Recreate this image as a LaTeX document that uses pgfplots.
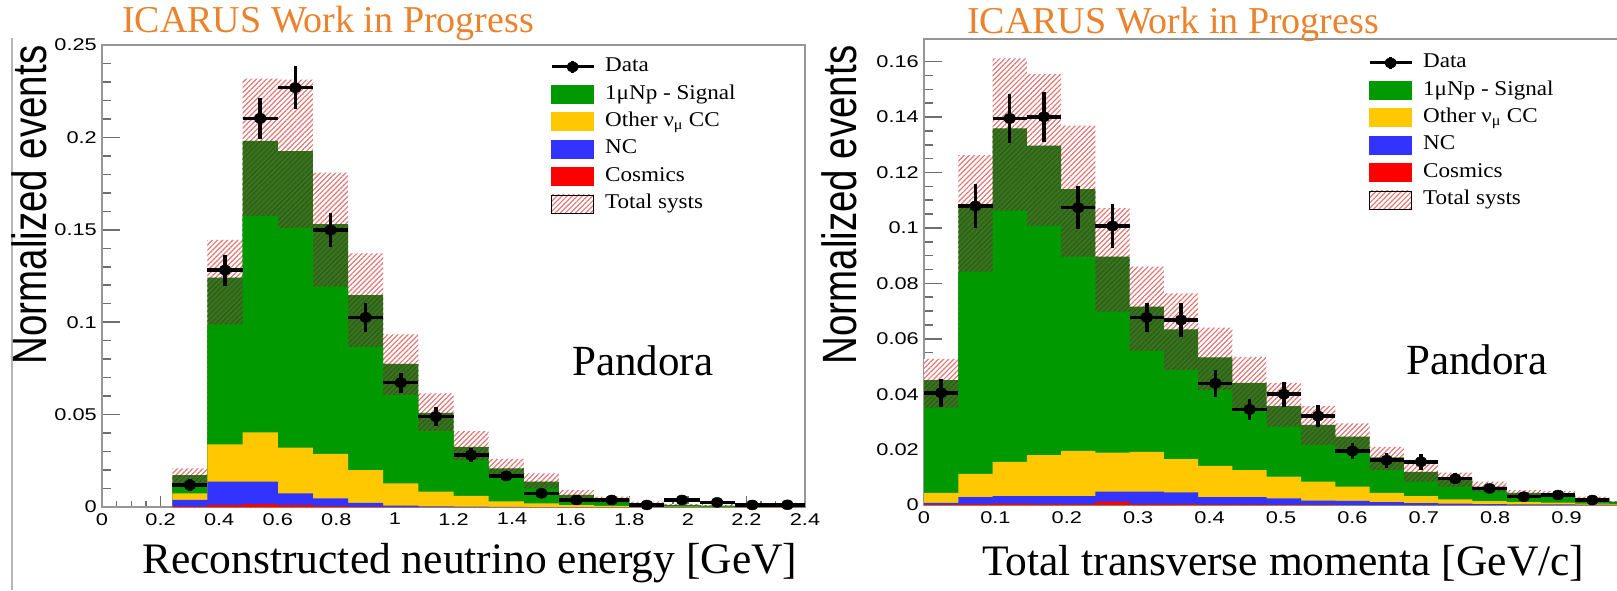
\documentclass[border=0pt]{standalone}
\usepackage{fontspec}
\setmainfont{Liberation Serif}
\newfontfamily\ticksfont[FakeStretch=1.28]{Liberation Sans}
\newfontfamily\labelsans{Liberation Sans}
\newfontfamily\legfont[FakeStretch=1.1]{Liberation Serif}
\usepackage{pgfplots}
\pgfplotsset{compat=1.18}
\usepackage{pgfplotstable}
\usetikzlibrary{patterns.meta}

\definecolor{sigcol}{RGB}{0,153,0}
\definecolor{sysdark}{RGB}{58,115,32}
\definecolor{sysdarkline}{RGB}{42,92,22}
\definecolor{othcol}{RGB}{255,200,0}
\definecolor{nccol}{RGB}{51,51,255}
\definecolor{coscol}{RGB}{255,0,0}
\definecolor{hatchred}{RGB}{225,120,120}
\definecolor{framecol}{RGB}{150,150,150}
\definecolor{tickcol}{RGB}{110,110,110}
\definecolor{icarus}{RGB}{235,130,45}

% bin left edge, stacked components, syst band (down/up), data and its error
\pgfplotstableread{
lo   cos    nc     oth    sig    dn     up     data   derr
0.24 0.0003 0.0035 0.0036 0.0099 0.0045 0.0036 0.0119 0.0030
0.36 0.0012 0.0125 0.0202 0.0902 0.0253 0.0204 0.1282 0.0084
0.48 0.0015 0.0122 0.0267 0.1577 0.0406 0.0337 0.2103 0.0110
0.60 0.0010 0.0064 0.0247 0.1605 0.0415 0.0387 0.2269 0.0116
0.72 0.0005 0.0042 0.0240 0.1244 0.0339 0.0278 0.1499 0.0090
0.84 0.0002 0.0021 0.0177 0.0947 0.0280 0.0225 0.1026 0.0077
0.96 0.0001 0.0006 0.0121 0.0646 0.0168 0.0160 0.0673 0.0054
1.08 0.0000 0.0003 0.0080 0.0427 0.0100 0.0105 0.0489 0.0051
1.20 0.0000 0.0002 0.0058 0.0266 0.0072 0.0085 0.0281 0.0039
1.32 0.0000 0.0001 0.0029 0.0179 0.0045 0.0051 0.0168 0.0024
1.44 0.0000 0.0000 0.0020 0.0117 0.0036 0.0045 0.0074 0.0020
1.56 0.0000 0.0000 0.0010 0.0055 0.0018 0.0027 0.0038 0.0015
1.68 0.0000 0.0000 0.0006 0.0032 0.0013 0.0018 0.0038 0.0015
1.80 0.0000 0.0000 0.0003 0.0017 0.0008 0.0009 0.0011 0.0008
1.92 0.0000 0.0000 0.0002 0.0009 0.0005 0.0005 0.0038 0.0015
2.04 0.0000 0.0000 0.0001 0.0007 0.0003 0.0004 0.0025 0.0012
2.16 0.0000 0.0000 0.0000 0.0004 0.0002 0.0002 0.0011 0.0008
2.28 0.0000 0.0000 0.0000 0.0003 0.0001 0.0001 0.0012 0.0008
2.40 0      0      0      0      0      0      nan    0
}\energydata

\pgfplotstableread{
lo    cos    nc     oth    sig    dn     up     data   derr
0.000 0.0002 0.0006 0.0036 0.0407 0.0100 0.0076 0.0405 0.0050
0.048 0.0004 0.0024 0.0084 0.0974 0.0244 0.0177 0.1079 0.0079
0.096 0.0005 0.0027 0.0124 0.1203 0.0297 0.0253 0.1395 0.0090
0.144 0.0004 0.0028 0.0148 0.1117 0.0289 0.0258 0.1401 0.0090
0.192 0.0003 0.0029 0.0163 0.0945 0.0244 0.0229 0.1073 0.0078
0.240 0.0012 0.0036 0.0141 0.0707 0.0198 0.0175 0.1007 0.0078
0.288 0.0004 0.0044 0.0144 0.0524 0.0160 0.0144 0.0677 0.0053
0.336 0.0003 0.0043 0.0120 0.0468 0.0147 0.0130 0.0668 0.0061
0.384 0.0002 0.0026 0.0113 0.0392 0.0118 0.0107 0.0439 0.0048
0.432 0.0002 0.0026 0.0098 0.0315 0.0098 0.0094 0.0345 0.0039
0.480 0.0001 0.0023 0.0078 0.0255 0.0074 0.0084 0.0400 0.0045
0.528 0.0001 0.0015 0.0068 0.0205 0.0072 0.0068 0.0321 0.0039
0.576 0.0000 0.0015 0.0051 0.0181 0.0055 0.0048 0.0195 0.0029
0.624 0.0000 0.0010 0.0034 0.0128 0.0046 0.0038 0.0162 0.0027
0.672 0.0000 0.0007 0.0025 0.0088 0.0036 0.0040 0.0156 0.0028
0.720 0.0000 0.0005 0.0015 0.0076 0.0030 0.0021 0.0095 0.0020
0.768 0.0000 0.0003 0.0011 0.0052 0.0018 0.0018 0.0060 0.0017
0.816 0.0000 0.0002 0.0008 0.0034 0.0012 0.0010 0.0030 0.0012
0.864 0.0000 0.0002 0.0007 0.0032 0.0011 0.0010 0.0036 0.0012
0.912 0.0000 0.0001 0.0004 0.0019 0.0008 0.0006 0.0018 0.0010
0.960 0.0000 0.0000 0.0002 0.0010 0.0004 0.0003 nan    0
1.008 0      0      0      0      0      0      nan    0
}\momentumdata

\tikzset{
  systup/.style={fill=white, postaction={pattern={Lines[angle=45,distance=3.6pt,line width=1.2pt]}, pattern color=hatchred}},
  systdn/.style={fill=sysdark, postaction={pattern={Lines[angle=45,distance=3.6pt,line width=1.0pt]}, pattern color=sysdarkline}},
}

\newcommand{\tot}{\thisrow{cos}+\thisrow{nc}+\thisrow{oth}+\thisrow{sig}}

\pgfplotsset{
  rootframe/.style={
    scale only axis, anchor=south west,
    enlargelimits=false, ymin=0,
    tick align=inside, xtick pos=bottom, ytick pos=left,
    axis line style={framecol, line width=2pt},
    tick style={tickcol, line width=1.5pt},
    major tick length=18pt, minor tick length=9pt,
    xtick style={/pgfplots/major tick length=11pt, /pgfplots/minor tick length=6pt},
    ticklabel style={font=\ticksfont\fontsize{17}{17}\selectfont, text=black},
    yticklabel style={inner sep=0pt, xshift=-5pt},
    xticklabel style={inner sep=0pt, yshift=-6pt},
    legend cell align=left,
    legend style={draw=none, fill=none, inner sep=0pt, outer sep=0pt, anchor=north west,
      font=\legfont\fontsize{21}{21}\selectfont, row sep=9pt,
      nodes={inner sep=0pt, text height=14pt, text depth=4pt},
      /tikz/every odd column/.append style={column sep=10pt}},
  },
  datastyle/.style={forget plot, only marks, black, mark=*, mark size=5pt,
    mark options={xscale=1.25, fill=black},
    error bars/.cd, x dir=both, x explicit, y dir=both, y explicit,
    error mark=none, error bar style={line width=3.5pt, black}},
}

% legend entries shared by both panels
\newcommand{\rootlegend}{%
  \addlegendimage{legend image code/.code={
    \draw[black, line width=3pt] (0pt,0pt) -- (42pt,0pt);
    \draw[black, line width=3pt] (21pt,-6pt) -- (21pt,6pt);
    \fill[black] (21pt,0pt) ellipse (6pt and 5pt);}}
  \addlegendentry{Data}
  \addlegendimage{legend image code/.code={\fill[sigcol] (0pt,-9pt) rectangle (42pt,9pt);}}
  \addlegendentry{1μNp - Signal}
  \addlegendimage{legend image code/.code={\fill[othcol] (0pt,-9pt) rectangle (42pt,9pt);}}
  \addlegendentry{Other ν\textsubscript{μ} CC}
  \addlegendimage{legend image code/.code={\fill[nccol] (0pt,-9pt) rectangle (42pt,9pt);}}
  \addlegendentry{NC}
  \addlegendimage{legend image code/.code={\fill[coscol] (0pt,-9pt) rectangle (42pt,9pt);}}
  \addlegendentry{Cosmics}
  \addlegendimage{legend image code/.code={\path[systup] (0pt,-9pt) rectangle (42pt,9pt);}}
  \addlegendentry{Total systs}
}

% stacked histogram with the systematic band
\newcommand{\stackhist}[1]{%
  \addplot[forget plot, ybar interval, draw=none, systup] table[x=lo, y expr=\tot+\thisrow{up}] {#1};
  \addplot[forget plot, ybar interval, draw=none, systdn] table[x=lo, y expr=\tot] {#1};
  \addplot[forget plot, ybar interval, draw=none, fill=sigcol] table[x=lo, y expr=\tot-\thisrow{dn}] {#1};
  \addplot[forget plot, ybar interval, draw=none, fill=othcol] table[x=lo, y expr=\thisrow{cos}+\thisrow{nc}+\thisrow{oth}] {#1};
  \addplot[forget plot, ybar interval, draw=none, fill=nccol] table[x=lo, y expr=\thisrow{cos}+\thisrow{nc}] {#1};
  \addplot[forget plot, ybar interval, draw=none, fill=coscol] table[x=lo, y=cos] {#1};
}

\begin{document}
\begin{tikzpicture}
\useasboundingbox (0pt,0pt) rectangle (1617pt,590pt);

% left border of the first panel
\draw[framecol!70, line width=1.5pt] (12pt,0pt) -- (12pt,552pt);

% ---------------- reconstructed neutrino energy ----------------
\begin{axis}[rootframe,
  at={(102pt,83pt)}, width=703pt, height=462pt,
  xmin=0, xmax=2.4, ymax=0.25,
  xtick={0,0.2,0.4,0.6,0.8,1,1.2,1.4,1.6,1.8,2,2.2,2.4},
  xticklabels={0,0.2,0.4,0.6,0.8,1,1.2,1.4,1.6,1.8,2,2.2,2.4},
  minor x tick num=3,
  ytick={0,0.05,0.1,0.15,0.2,0.25},
  yticklabels={0,0.05,0.1,0.15,0.2,0.25},
  minor y tick num=4,
  legend style={at={(0.6375,0.972)}},
]
\rootlegend
\stackhist{\energydata}
\addplot[datastyle] table[x expr=\thisrow{lo}+0.06, y=data, x error expr=0.06, y error=derr] {\energydata};
\end{axis}

% ---------------- total transverse momentum ----------------
\begin{axis}[rootframe,
  at={(924pt,85pt)}, width=714pt, height=465.5pt,
  xmin=0, xmax=1.0, ymax=0.168,
  xtick={0,0.1,0.2,0.3,0.4,0.5,0.6,0.7,0.8,0.9,1},
  xticklabels={0,0.1,0.2,0.3,0.4,0.5,0.6,0.7,0.8,0.9,{}},
  minor x tick num=4,
  ytick={0,0.02,0.04,0.06,0.08,0.1,0.12,0.14,0.16},
  yticklabels={0,0.02,0.04,0.06,0.08,0.1,0.12,0.14,0.16},
  minor y tick num=3,
  legend style={at={(0.622,0.969)}},
]
\rootlegend
\stackhist{\momentumdata}
\addplot[datastyle] table[x expr=\thisrow{lo}+0.024, y=data, x error expr=0.024, y error=derr] {\momentumdata};
\end{axis}

% axis titles
\node[rotate=90, anchor=base, inner sep=0pt] at (46pt,385pt)
  {\scalebox{1}[1.25]{\labelsans\fontsize{38.5}{40}\selectfont Normalized events}};
\node[rotate=90, anchor=base, inner sep=0pt] at (856pt,385pt)
  {\scalebox{1}[1.25]{\labelsans\fontsize{38.5}{40}\selectfont Normalized events}};
\node[anchor=base west, inner sep=0pt, font=\fontsize{43.5}{46}\selectfont] at (142pt,17pt)
  {Reconstructed neutrino energy [GeV]};
\node[anchor=base west, inner sep=0pt, font=\fontsize{43.5}{46}\selectfont] at (982pt,15pt)
  {Total transverse momenta [GeV/c]};

% panel annotations
\node[anchor=base west, inner sep=0pt, text=icarus, font=\fontsize{38}{40}\selectfont] at (122pt,557pt)
  {ICARUS Work in Progress};
\node[anchor=base west, inner sep=0pt, text=icarus, font=\fontsize{38}{40}\selectfont] at (967pt,556pt)
  {ICARUS Work in Progress};
\node[anchor=base west, inner sep=0pt, font=\fontsize{43}{45}\selectfont] at (572pt,215pt) {Pandora};
\node[anchor=base west, inner sep=0pt, font=\fontsize{43}{45}\selectfont] at (1406pt,216pt) {Pandora};
\end{tikzpicture}
\end{document}
